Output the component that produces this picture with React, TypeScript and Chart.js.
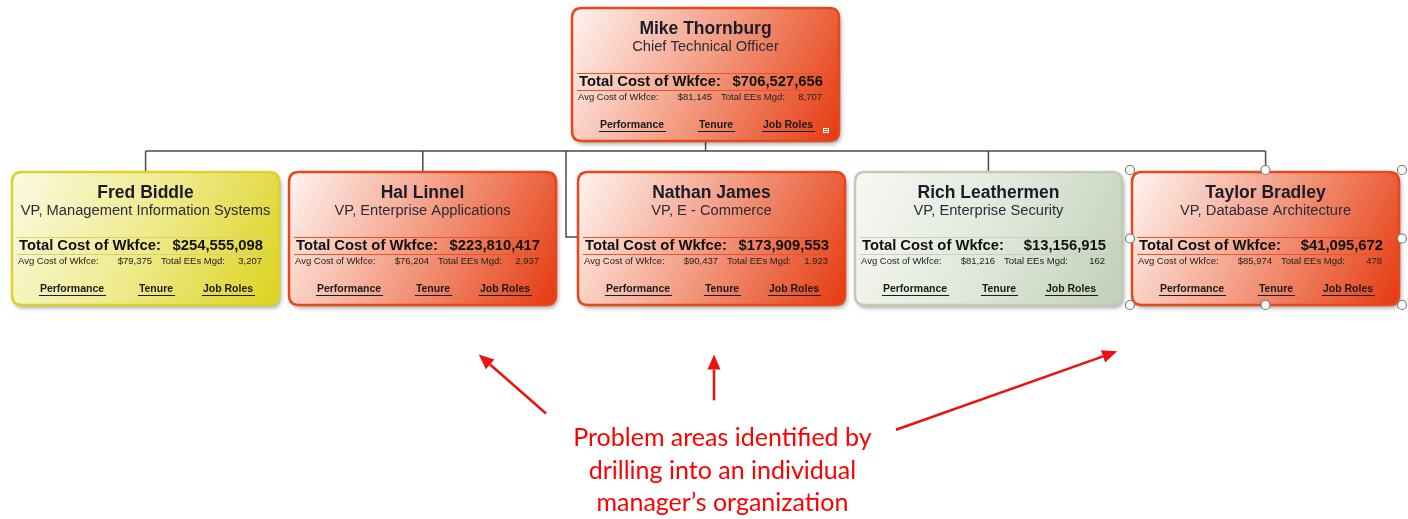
import React, { useEffect, useRef } from "react";
import { Chart, registerables } from "chart.js";
Chart.register(...registerables);

// ---- data ----
const names = ["Mike Thornburg", "Fred Biddle", "Hal Linnel", "Nathan James", "Rich Leathermen", "Taylor Bradley"];
const titles = [
  "Chief Technical Officer",
  "VP, Management Information Systems",
  "VP, Enterprise Applications",
  "VP, E - Commerce",
  "VP, Enterprise Security",
  "VP, Database Architecture",
];
const totalCost = [706527656, 254555098, 223810417, 173909553, 13156915, 41095672];
const avgCost = [81145, 79375, 76204, 90437, 81216, 85974];
const totalEEs = [8707, 3207, 2937, 1923, 162, 478];
const status = ["red", "yellow", "red", "red", "green", "red"];
const column = [2, 0, 0.99, 2.02, 3.01, 4];
const level = [0, 1, 1, 1, 1, 1];
const parentOf = [-1, 0, 0, 0, 0, 0];
const connectorSide = ["top", "top", "top", "left", "top", "top"];
const selected = [false, false, false, false, false, true];
const linkLabels = ["Performance", "Tenure", "Job Roles"];

const noteLines = ["Problem areas identified by", "drilling into an individual", "manager\u2019s organization"];
const noteX = 2.06;
const noteY = [2.22, 2.42, 2.62];
const arrowFromX = [1.43, 2.03, 2.68];
const arrowFromY = [2.07, 1.99, 2.17];
const arrowToX = [1.19, 2.03, 3.47];
const arrowToY = [1.71, 1.71, 1.69];

// ---- styles ----
const BOX_W = 267;
const BOX_H = 133;
const palettes: Record<string, any> = {
  red: { stops: ["#FFF5F2", "#F39A80", "#E53A0F"], border: "#E8461B", sep: "#E9552A" },
  yellow: { stops: ["#FBFAE2", "#EFEA8C", "#DDD21F"], border: "#DCD22A", sep: "#D9D16A" },
  green: { stops: ["#F7F9F4", "#E1E8DB", "#C2D0B8"], border: "#BDCCB3", sep: "#C6D2BD" },
};
const SANS = "'Liberation Sans', Arial, sans-serif";

function roundRect(ctx: CanvasRenderingContext2D, x: number, y: number, w: number, h: number, r: number) {
  ctx.beginPath();
  ctx.moveTo(x + r, y);
  ctx.lineTo(x + w - r, y);
  ctx.quadraticCurveTo(x + w, y, x + w, y + r);
  ctx.lineTo(x + w, y + h - r);
  ctx.quadraticCurveTo(x + w, y + h, x + w - r, y + h);
  ctx.lineTo(x + r, y + h);
  ctx.quadraticCurveTo(x, y + h, x, y + h - r);
  ctx.lineTo(x, y + r);
  ctx.quadraticCurveTo(x, y, x + r, y);
  ctx.closePath();
}

const fmt = (n: number) => n.toLocaleString("en-US");

const orgPlugin = {
  id: "orgPlugin",
  afterDatasetsDraw(chart: any) {
    const ctx: CanvasRenderingContext2D = chart.ctx;
    const meta = chart.getDatasetMeta(0);
    const xs = chart.scales.x;
    const ys = chart.scales.y;
    const pts = meta.data.map((p: any) => ({ x: p.x, y: p.y }));
    const left = (i: number) => Math.round(pts[i].x - BOX_W / 2);
    const top = (i: number) => Math.round(pts[i].y - BOX_H / 2);

    // connectors
    ctx.save();
    ctx.strokeStyle = "#4A4A4A";
    ctx.lineWidth = 1.5;
    const parents = Array.from(new Set(parentOf.filter((p) => p >= 0)));
    parents.forEach((p) => {
      const kids = parentOf.map((q, i) => (q === p ? i : -1)).filter((i) => i >= 0);
      const busY = top(p) + BOX_H + 10;
      const px = pts[p].x;
      const connX = kids.map((k) => (connectorSide[k] === "left" ? left(k) - 12 : pts[k].x));
      ctx.beginPath();
      ctx.moveTo(px, top(p) + BOX_H);
      ctx.lineTo(px, busY);
      ctx.moveTo(Math.min(...connX), busY);
      ctx.lineTo(Math.max(...connX), busY);
      kids.forEach((k, j) => {
        if (connectorSide[k] === "left") {
          ctx.moveTo(connX[j], busY);
          ctx.lineTo(connX[j], pts[k].y - 1.5);
          ctx.lineTo(left(k), pts[k].y - 1.5);
        } else {
          ctx.moveTo(connX[j], busY);
          ctx.lineTo(connX[j], top(k));
        }
      });
      ctx.stroke();
    });
    ctx.restore();

    // boxes
    pts.forEach((_: any, i: number) => {
      const L = left(i);
      const T = top(i);
      const pal = palettes[status[i]];
      ctx.save();
      ctx.shadowColor = "rgba(0,0,0,0.35)";
      ctx.shadowBlur = 4;
      ctx.shadowOffsetX = 2;
      ctx.shadowOffsetY = 3;
      const g = ctx.createLinearGradient(L, T, L + BOX_W, T + BOX_H);
      g.addColorStop(0, pal.stops[0]);
      g.addColorStop(0.5, pal.stops[1]);
      g.addColorStop(1, pal.stops[2]);
      roundRect(ctx, L, T, BOX_W, BOX_H, 10);
      ctx.fillStyle = g;
      ctx.fill();
      ctx.restore();
      ctx.save();
      roundRect(ctx, L, T, BOX_W, BOX_H, 10);
      ctx.strokeStyle = pal.border;
      ctx.lineWidth = 2.5;
      ctx.stroke();

      const cx = L + BOX_W / 2;
      ctx.textBaseline = "middle";
      ctx.textAlign = "center";
      ctx.fillStyle = "#1B1B2B";
      ctx.font = `bold 17.5px ${SANS}`;
      ctx.fillText(names[i], cx, T + 21);
      ctx.fillStyle = "#2B2B3B";
      ctx.font = `14.7px ${SANS}`;
      ctx.fillText(titles[i], cx, T + 39);

      // separators
      ctx.strokeStyle = pal.sep;
      ctx.lineWidth = 1;
      ctx.beginPath();
      ctx.moveTo(L + 5, T + 65.5);
      ctx.lineTo(L + BOX_W - 5, T + 65.5);
      ctx.moveTo(L + 5, T + 82.5);
      ctx.lineTo(L + BOX_W - 5, T + 82.5);
      ctx.stroke();

      ctx.fillStyle = "#111111";
      ctx.font = `bold 14.8px ${SANS}`;
      ctx.textAlign = "left";
      ctx.fillText("Total Cost of Wkfce:", L + 7, T + 74);
      ctx.textAlign = "right";
      ctx.fillText("$" + fmt(totalCost[i]), L + 251, T + 74);

      ctx.font = `9.5px ${SANS}`;
      ctx.fillStyle = "#222222";
      ctx.textAlign = "left";
      ctx.fillText("Avg Cost of Wkfce:", L + 6, T + 89);
      ctx.textAlign = "right";
      ctx.fillText("$" + fmt(avgCost[i]), L + 140, T + 89);
      ctx.textAlign = "left";
      ctx.fillText("Total EEs Mgd:", L + 149, T + 89);
      ctx.textAlign = "right";
      ctx.fillText(fmt(totalEEs[i]), L + 250, T + 89);

      // links
      ctx.font = `bold 10.5px ${SANS}`;
      ctx.textAlign = "center";
      ctx.fillStyle = "#1A1A1A";
      ctx.strokeStyle = "#1A1A1A";
      const linkX = [60, 144, 216];
      linkLabels.forEach((lab, j) => {
        const lx = L + linkX[j];
        ctx.fillText(lab, lx, T + 117);
        const w = ctx.measureText(lab).width;
        ctx.beginPath();
        ctx.moveTo(lx - w / 2 - 1, T + 123.5);
        ctx.lineTo(lx + w / 2 + 2, T + 123.5);
        ctx.lineWidth = 1;
        ctx.stroke();
      });

      if (i === 0) {
        // small menu icon
        ctx.fillStyle = "#FFFFFF";
        ctx.fillRect(L + 251, T + 120, 6, 5);
        ctx.strokeStyle = "#E8461B";
        ctx.beginPath();
        ctx.moveTo(L + 252, T + 121.5);
        ctx.lineTo(L + 256, T + 121.5);
        ctx.moveTo(L + 252, T + 123.5);
        ctx.lineTo(L + 256, T + 123.5);
        ctx.stroke();
      }
      ctx.restore();

      if (selected[i]) {
        ctx.save();
        const hx = [L - 2, L + BOX_W / 2, L + BOX_W + 3];
        const hy = [T - 2, T + BOX_H / 2, T + BOX_H];
        ctx.fillStyle = "#FFFFFF";
        ctx.strokeStyle = "#7A7A7A";
        ctx.lineWidth = 1.2;
        hy.forEach((yy, r) =>
          hx.forEach((xx, c) => {
            if (r === 1 && c === 1) return;
            ctx.beginPath();
            ctx.arc(xx, yy, 4.5, 0, Math.PI * 2);
            ctx.fill();
            ctx.stroke();
          })
        );
        ctx.restore();
      }
    });

    // annotation
    ctx.save();
    ctx.fillStyle = "#FF0000";
    ctx.font = `25px Lato, 'Open Sans', sans-serif`;
    ctx.textAlign = "center";
    ctx.textBaseline = "middle";
    noteLines.forEach((t, j) => ctx.fillText(t, xs.getPixelForValue(noteX), ys.getPixelForValue(noteY[j])));
    ctx.strokeStyle = "#EE1111";
    ctx.fillStyle = "#EE1111";
    ctx.lineWidth = 2.5;
    arrowFromX.forEach((_, j) => {
      const x0 = xs.getPixelForValue(arrowFromX[j]);
      const y0 = ys.getPixelForValue(arrowFromY[j]);
      const x1 = xs.getPixelForValue(arrowToX[j]);
      const y1 = ys.getPixelForValue(arrowToY[j]);
      const ang = Math.atan2(y1 - y0, x1 - x0);
      const hl = 15;
      const hw = 6.5;
      const bx = x1 - hl * Math.cos(ang);
      const by = y1 - hl * Math.sin(ang);
      ctx.beginPath();
      ctx.moveTo(x0, y0);
      ctx.lineTo(bx, by);
      ctx.stroke();
      ctx.beginPath();
      ctx.moveTo(x1, y1);
      ctx.lineTo(bx + hw * Math.sin(ang), by - hw * Math.cos(ang));
      ctx.lineTo(bx - hw * Math.sin(ang), by + hw * Math.cos(ang));
      ctx.closePath();
      ctx.fill();
    });
    ctx.restore();
  },
};

export default function App() {
  const ref = useRef<HTMLCanvasElement | null>(null);
  useEffect(() => {
    document.body.style.margin = "0";
    document.body.style.background = "#FFFFFF";
    if (!ref.current) return;
    const chart = new Chart(ref.current, {
      type: "scatter",
      data: {
        datasets: [
          {
            data: column.map((c, i) => ({ x: c, y: level[i] })),
            pointRadius: 0,
            pointHoverRadius: 0,
          },
        ],
      },
      options: {
        responsive: false,
        animation: false,
        layout: { padding: 0 },
        events: [],
        plugins: { legend: { display: false }, tooltip: { enabled: false } },
        scales: {
          x: { type: "linear", min: -0.52, max: 4.5086, display: false },
          y: { type: "linear", min: -0.4587, max: 2.7156, reverse: true, display: false },
        },
      },
      plugins: [orgPlugin],
    });
    return () => chart.destroy();
  }, []);
  return (
    <div style={{ width: 1408, height: 519 }}>
      <canvas ref={ref} width={1408} height={519} style={{ display: "block" }} />
    </div>
  );
}
